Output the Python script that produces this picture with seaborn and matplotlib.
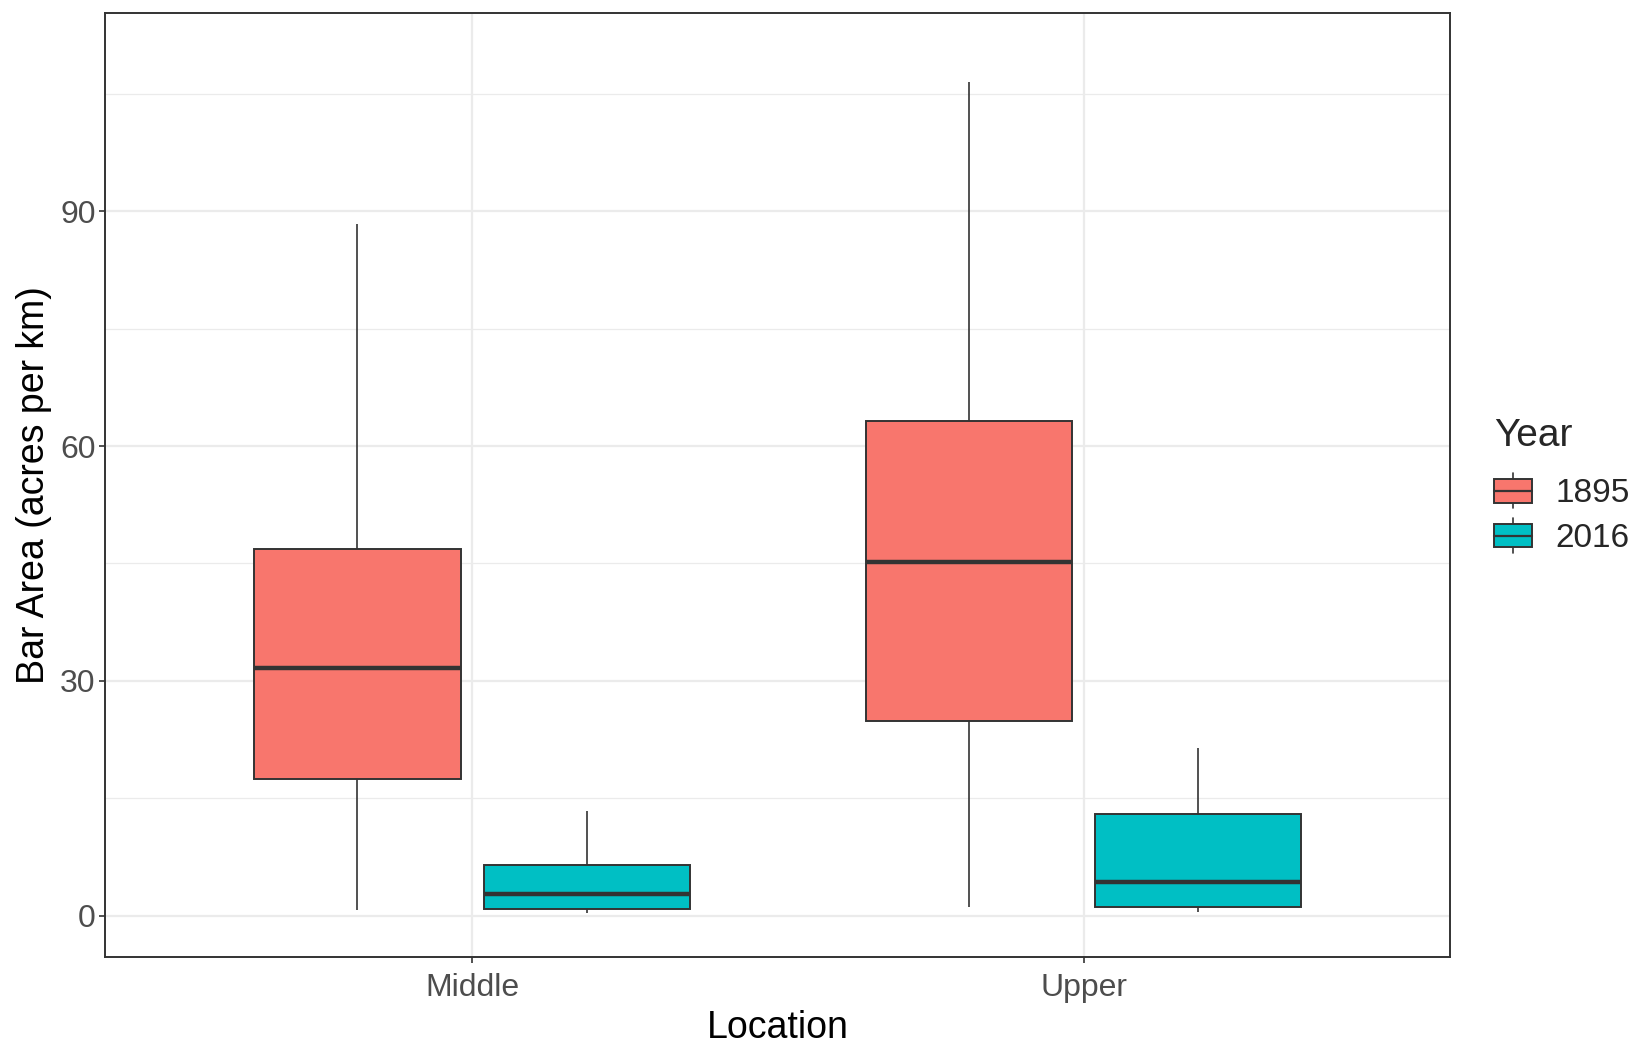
import matplotlib
matplotlib.use("Agg")

import matplotlib.pyplot as plt
import pandas as pd
import seaborn as sns
from matplotlib.legend_handler import HandlerBase
from matplotlib.lines import Line2D
from matplotlib.patches import Patch, Rectangle
from matplotlib.ticker import MultipleLocator


# -----------------------------
# 1. Data (five-number summaries)
# -----------------------------

locations = ["Middle", "Upper"]
years = ["1895", "2016"]

# min, q1, median, q3, max
middle_1895 = [0.7, 17.5, 31.6, 46.8, 88.4]
middle_2016 = [0.3, 0.8, 2.7, 6.5, 13.4]
upper_1895 = [1.1, 24.9, 45.2, 63.2, 106.5]
upper_2016 = [0.4, 1.1, 4.3, 13.0, 21.4]

colors = ["#F8766D", "#00BFC4"]

groups = {
    ("Middle", "1895"): middle_1895,
    ("Middle", "2016"): middle_2016,
    ("Upper", "1895"): upper_1895,
    ("Upper", "2016"): upper_2016,
}

rows = []
for (loc, yr), vals in groups.items():
    for v in vals:
        rows.append({"Location": loc, "Year": yr, "Area": v})
df = pd.DataFrame(rows)


# -----------------------------
# 2. Style
# -----------------------------

sns.set_theme(style="white")
plt.rcParams["font.family"] = ["Liberation Sans", "DejaVu Sans"]

edge = "#333333"


# -----------------------------
# 3. Plot
# -----------------------------

fig = plt.figure(figsize=(16.5, 10.59), dpi=100)
ax = fig.add_axes([0.0638, 0.0967, 0.8152, 0.8913])

sns.boxplot(
    data=df,
    x="Location",
    y="Area",
    hue="Year",
    order=locations,
    hue_order=years,
    palette=dict(zip(years, colors)),
    saturation=1,
    width=0.75,
    gap=0.1,
    whis=(0, 100),
    linecolor=edge,
    linewidth=1.4,
    showcaps=False,
    fliersize=0,
    medianprops=dict(linewidth=3.2, color=edge),
    whiskerprops=dict(linewidth=1.2, color=edge),
    ax=ax,
)

ax.set_xlim(-0.6, 1.6)
ax.set_ylim(-5.25, 115.4)

ax.yaxis.set_major_locator(MultipleLocator(30))
ax.yaxis.set_minor_locator(MultipleLocator(15))
ax.grid(which="major", color="#EBEBEB", linewidth=1.6)
ax.yaxis.grid(which="minor", color="#EBEBEB", linewidth=0.9)
ax.set_axisbelow(True)

for s in ax.spines.values():
    s.set_color(edge)
    s.set_linewidth(1.4)

ax.tick_params(axis="both", which="major", length=4, width=1.2, color=edge,
               labelsize=23, labelcolor="#4D4D4D", left=True, bottom=True)
ax.tick_params(axis="y", which="major", pad=3)
ax.tick_params(axis="x", which="major", pad=8)
ax.tick_params(axis="y", which="minor", length=0)

ax.set_xlabel("Location", fontsize=27, color="black", labelpad=5)
ax.set_ylabel("Bar Area (acres per km)", fontsize=27, color="black", labelpad=6)


# -----------------------------
# 4. Legend with box-shaped keys
# -----------------------------

class BoxKey(HandlerBase):
    def create_artists(self, legend, orig_handle, xdescent, ydescent,
                       width, height, fontsize, trans):
        x0, y0 = -xdescent, -ydescent
        bh = height * 0.68
        by = y0 + (height - bh) / 2
        cx = x0 + width / 2
        cy = y0 + height / 2
        whisk = Line2D([cx, cx], [y0, y0 + height], color=edge,
                       linewidth=1.2, transform=trans)
        box = Rectangle((x0, by), width, bh,
                        facecolor=orig_handle.get_facecolor(),
                        edgecolor=edge, linewidth=1.4, transform=trans)
        med = Line2D([x0, x0 + width], [cy, cy], color=edge,
                     linewidth=1.6, transform=trans)
        return [whisk, box, med]


ax.legend_.remove()
handles = [Patch(facecolor=c) for c in colors]
leg = fig.legend(
    handles, years,
    title="Year",
    loc="upper left",
    bbox_to_anchor=(1494 / 1650, 1 - 418 / 1059),
    frameon=False,
    fontsize=24,
    title_fontsize=28,
    handler_map={Patch: BoxKey()},
    handlelength=1.15,
    handleheight=1.22,
    labelspacing=0.28,
    handletextpad=0.7,
    borderpad=0,
    borderaxespad=0,
    alignment="left",
)
# a bit more room between title and the keys, as in ggplot
leg._legend_box.sep = 14

fig.savefig("out.png", dpi=100)
